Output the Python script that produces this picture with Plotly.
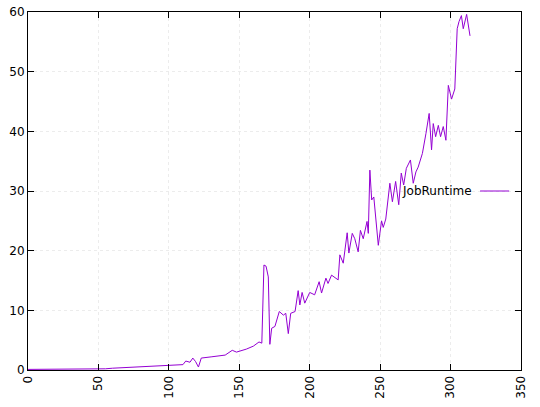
import plotly.graph_objects as go

# values
job_index = [0, 20, 40, 55, 60, 70, 80, 90, 100, 105, 110, 112, 115, 117, 119, 121, 123, 130, 135,
             140, 145, 148, 155, 160, 164, 166, 167.5, 169, 170.6, 171.7, 173, 175.3, 178.4, 181.3,
             183, 184.8, 186.5, 189.6, 191.8, 193, 194.6, 196.5, 200, 203.5, 206.7, 208.4, 211.5,
             213, 215.5, 220.2, 221.4, 223.8, 226.6, 227.8, 230.2, 232, 234.4, 236, 238, 240.7,
             241.6, 242.7, 244, 245.5, 248.7, 251, 252.2, 254, 256.9, 258.7, 261, 263.2, 265,
             266.7, 268.6, 271.5, 273.5, 275.4, 277, 280, 282.5, 284.8, 286.5, 287.7, 289.4,
             291.3, 292.9, 294.8, 296.7, 298.4, 300.7, 303, 304.7, 306, 307.7, 309, 311.4, 313.8]
job_runtime = [0.1, 0.1, 0.1, 0.2, 0.3, 0.4, 0.5, 0.6, 0.7, 0.8, 0.9, 1.5, 1.3, 2.0, 1.4, 0.5, 2.0,
               2.2, 2.3, 2.5, 3.3, 3.0, 3.5, 4.0, 4.7, 4.5, 17.6, 17.4, 15.6, 4.3, 7.0, 7.3, 9.8,
               9.2, 9.5, 6.1, 9.5, 9.8, 13.3, 10.9, 13.0, 11.2, 13.0, 12.6, 14.8, 12.9, 15.4,
               14.5, 15.9, 15.1, 19.3, 17.9, 23.0, 19.6, 22.9, 22.0, 19.8, 23.4, 22.0, 24.9,
               22.9, 33.5, 28.5, 29.0, 20.9, 25.0, 23.9, 25.3, 31.3, 28.2, 31.6, 27.7, 33.0,
               31.0, 33.8, 35.2, 31.3, 33.2, 34.0, 36.3, 39.6, 43.0, 36.9, 41.3, 39.1,
               41.0, 39.1, 40.8, 38.5, 47.7, 45.4, 47.1, 57.2, 58.4, 59.4, 57.2, 59.6, 56.0]

purple = "#9400d3"
font = dict(family="DejaVu Sans", size=12, color="black")

fig = go.Figure(go.Scatter(x=job_index, y=job_runtime, mode="lines",
                           line=dict(color=purple, width=1), showlegend=False))

axis_common = dict(showline=True, linecolor="black", linewidth=1, mirror="ticks",
                   ticks="inside", ticklen=6, tickcolor="black",
                   showgrid=True, gridcolor="#ececec", griddash="dot", gridwidth=1,
                   zeroline=False, tickfont=font, automargin=False)
fig.update_xaxes(range=[0, 350], dtick=50, tickangle=-90, **axis_common)
fig.update_yaxes(range=[0, 60], dtick=10, **axis_common)

# gnuplot-style key: text on the left, sample line on the right
fig.add_annotation(x=0.905, y=0.5, xref="paper", yref="paper", text="JobRuntime",
                   showarrow=False, xanchor="right", font=font)
fig.add_shape(type="line", xref="paper", yref="paper", x0=0.917, x1=0.976, y0=0.5, y1=0.5,
              line=dict(color=purple, width=1))

fig.update_layout(width=540, height=407, margin=dict(l=28, r=19, t=12, b=37),
                  plot_bgcolor="white", paper_bgcolor="white", font=font)
# drop the page's default body margin so the figure sits at the window corner
fig.write_html("out.html", config={"displayModeBar": False},
               post_script="document.body.style.margin = '0';")
